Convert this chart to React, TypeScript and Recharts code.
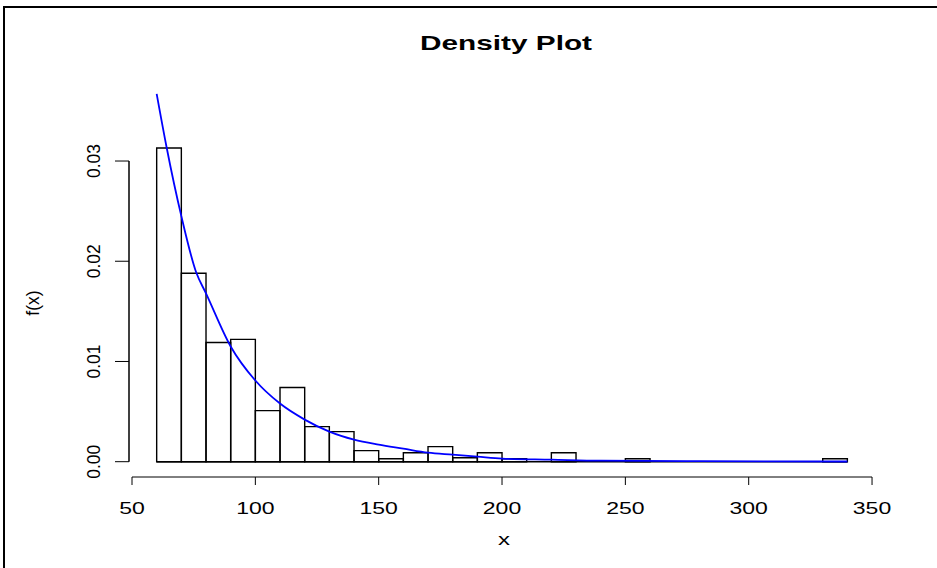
import {
  ComposedChart,
  Line,
  ReferenceArea,
  ReferenceLine,
  XAxis,
  YAxis,
  Label,
} from 'recharts'

const FONT = '"Liberation Sans", Arial, Helvetica, sans-serif'

// histogram: bins of width 10 from 60 to 340 (density scale)
const binStarts = [
  60, 70, 80, 90, 100, 110, 120, 130, 140, 150, 160, 170, 180, 190, 200, 210, 220, 230, 240, 250,
  260, 270, 280, 290, 300, 310, 320, 330,
]
const binDensity = [
  0.0313, 0.0188, 0.0119, 0.0122, 0.0051, 0.0074, 0.0035, 0.003, 0.0011, 0.0003, 0.0009, 0.0015,
  0.0004, 0.0009, 0.0003, 0, 0.0009, 0, 0, 0.0003, 0, 0, 0, 0, 0, 0, 0, 0.0003,
]
const binWidth = 10

// fitted density curve (blue)
const curveX = [60, 64, 70, 76, 80, 90, 100, 110, 120, 130, 140, 150, 160, 170, 180, 190, 200, 220, 240, 280, 340]
const curveY = [
  0.0367, 0.0314, 0.0245, 0.0189, 0.0168, 0.0115, 0.0081, 0.0058, 0.0042, 0.003, 0.0022, 0.0017,
  0.0013, 0.0009, 0.0007, 0.0005, 0.0003, 0.0002, 0.0001, 0.00005, 0.00002,
]

const xTicks = [50, 100, 150, 200, 250, 300, 350]
const yTicks = [0, 0.01, 0.02, 0.03]

const xDomain: [number, number] = [48.78, 351.2]
const yDomain: [number, number] = [-0.001527, 0.03968]

const curveData = curveX.map((x, i) => ({ x, d: curveY[i] }))

function XTick({ x, payload }: any) {
  const s = String(payload.value)
  return (
    <text
      x={x}
      y={514}
      textAnchor="middle"
      fontSize={16.5}
      fontFamily={FONT}
      fill="#000"
      textLength={s.length * 12.8}
      lengthAdjust="spacingAndGlyphs"
    >
      {s}
    </text>
  )
}

function YTick({ y, payload }: any) {
  const s = Number(payload.value).toFixed(2)
  return (
    <text
      x={100}
      y={y}
      transform={`rotate(-90, 100, ${y})`}
      textAnchor="middle"
      fontSize={17.5}
      fontFamily={FONT}
      fill="#000"
    >
      {s}
    </text>
  )
}

export default function App() {
  const histFrom = binStarts[0]
  const histTo = binStarts[binStarts.length - 1] + binWidth
  return (
    <div
      style={{
        position: 'absolute',
        left: 0,
        top: 0,
        width: 937,
        height: 568,
        overflow: 'hidden',
        background: '#fff',
      }}
    >
      <div
        style={{
          position: 'absolute',
          left: 3,
          top: 6,
          width: 1000,
          height: 1000,
          borderLeft: '2px solid #000',
          borderTop: '2px solid #000',
        }}
      />
      <ComposedChart
        width={937}
        height={568}
        data={curveData}
        margin={{ top: 64, right: 62, bottom: 0, left: 0 }}
        style={{ position: 'absolute', left: 0, top: 0 }}
      >
        <XAxis
          type="number"
          dataKey="x"
          domain={xDomain}
          ticks={xTicks}
          allowDataOverflow
          axisLine={false}
          tickSize={8}
          stroke="#000"
          height={91}
          tick={<XTick />}
          interval={0}
        >
          <Label
            content={() => (
              <text
                x={504}
                y={545}
                textAnchor="middle"
                fontSize={17}
                fontFamily={FONT}
                fill="#000"
                textLength={12}
                lengthAdjust="spacingAndGlyphs"
              >
                x
              </text>
            )}
          />
        </XAxis>
        <YAxis
          type="number"
          domain={yDomain}
          ticks={yTicks}
          allowDataOverflow
          axisLine={false}
          tickSize={14}
          stroke="#000"
          width={129}
          tick={<YTick />}
          interval={0}
        >
          <Label
            content={() => (
              <text
                x={39}
                y={303}
                transform="rotate(-90, 39, 303)"
                textAnchor="middle"
                fontSize={17.5}
                fontFamily={FONT}
                fill="#000"
              >
                f(x)
              </text>
            )}
          />
        </YAxis>
        {binStarts.map((b, i) => (
          <ReferenceArea
            key={b}
            x1={b}
            x2={b + binWidth}
            y1={0}
            y2={binDensity[i]}
            fill="none"
            stroke="#000"
            strokeWidth={1.4}
            ifOverflow="visible"
          />
        ))}
        {/* empty bins still show as a flat line along zero */}
        <ReferenceLine
          segment={[
            { x: histFrom, y: 0 },
            { x: histTo, y: 0 },
          ]}
          stroke="#000"
          strokeWidth={1.4}
          ifOverflow="visible"
        />
        <ReferenceLine
          segment={[
            { x: xTicks[0], y: yDomain[0] },
            { x: xTicks[xTicks.length - 1], y: yDomain[0] },
          ]}
          stroke="#000"
          strokeWidth={1}
          ifOverflow="visible"
        />
        <ReferenceLine
          segment={[
            { x: xDomain[0], y: yTicks[0] },
            { x: xDomain[0], y: yTicks[yTicks.length - 1] },
          ]}
          stroke="#000"
          strokeWidth={1.5}
          ifOverflow="visible"
        />
        <Line
          dataKey="d"
          type="monotone"
          stroke="#0000ff"
          strokeWidth={1.8}
          dot={false}
          activeDot={false}
          isAnimationActive={false}
        />
      </ComposedChart>
      <svg
        width={937}
        height={568}
        style={{ position: 'absolute', left: 0, top: 0, pointerEvents: 'none' }}
      >
        <text
          x={506}
          y={50}
          textAnchor="middle"
          fontSize={21}
          fontWeight="bold"
          fontFamily={FONT}
          fill="#000"
          textLength={172}
          lengthAdjust="spacingAndGlyphs"
        >
          Density Plot
        </text>
      </svg>
    </div>
  )
}
